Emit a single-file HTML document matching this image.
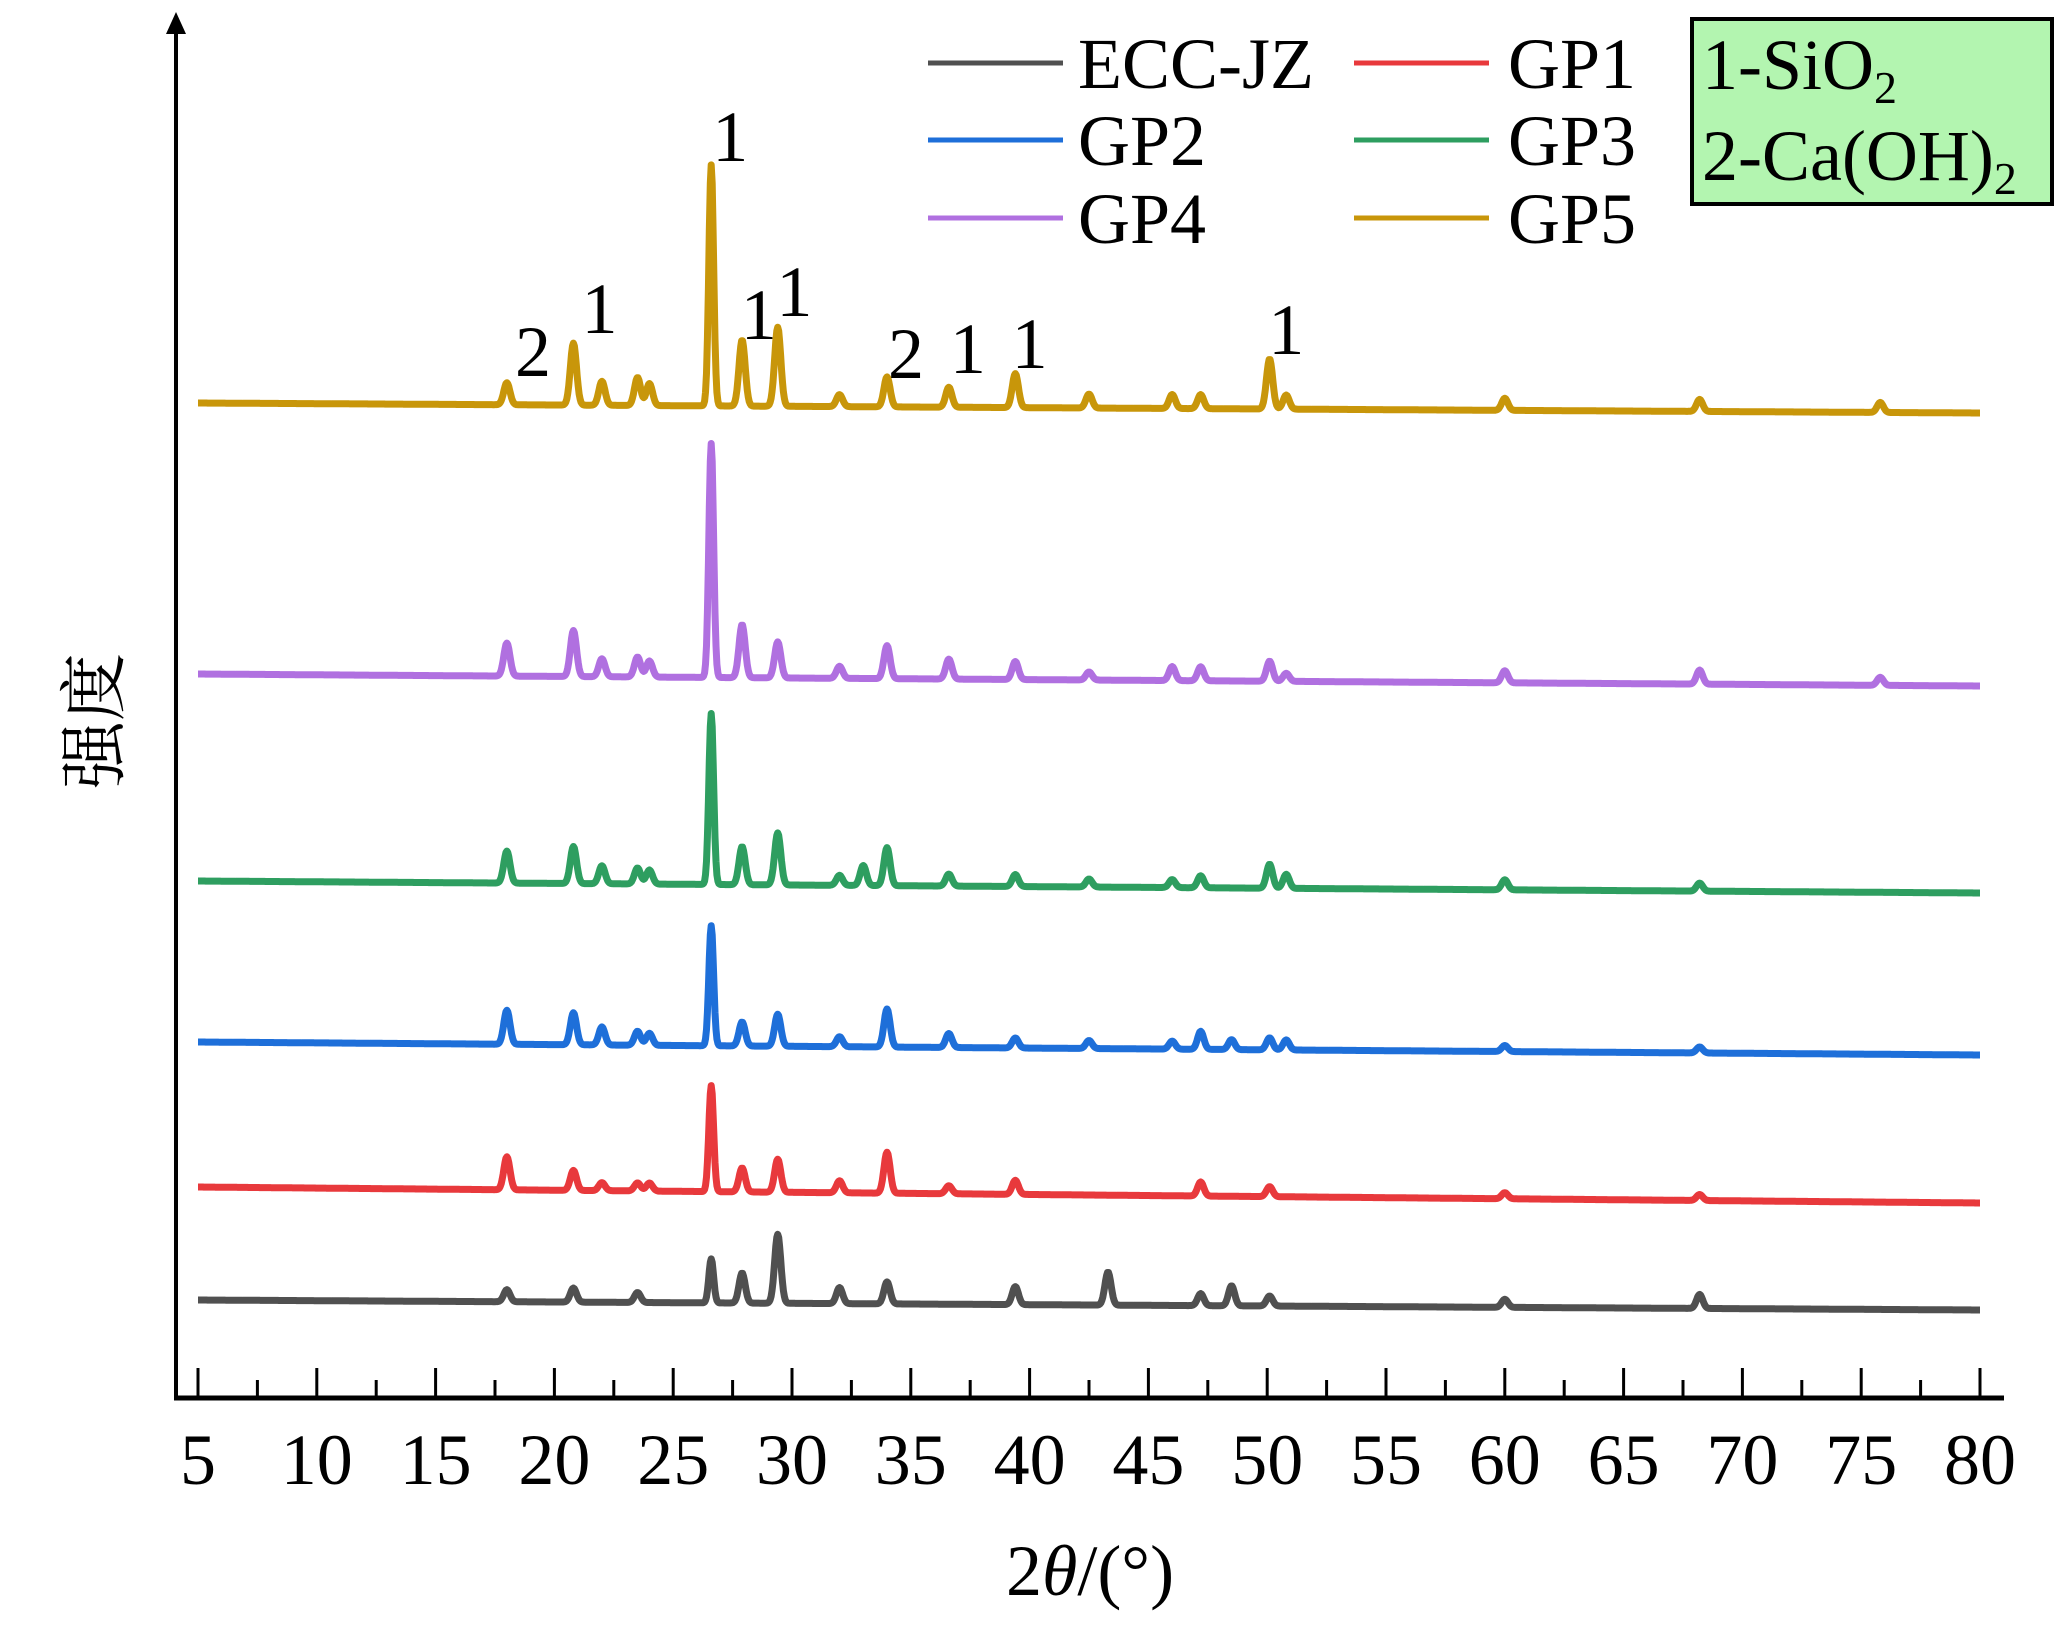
<!DOCTYPE html>
<html><head><meta charset="utf-8"><style>
body{margin:0;background:#fff}
svg text{font-family:"Liberation Serif","Noto Serif CJK SC",serif;fill:#000}
</style></head><body>
<svg id="chart" width="2064" height="1646" xmlns="http://www.w3.org/2000/svg">
<g id="plot"></g>
<g id="xaxis"></g>
<line x1="176" y1="1398" x2="176" y2="30" stroke="#000" stroke-width="4"/>
<polygon points="176,12 166,34 186,34" fill="#000"/>
<text x="1090" y="1595" font-size="72" text-anchor="middle">2<tspan font-style="italic">θ</tspan>/(°)</text>
<text transform="translate(118,721) rotate(-90)" font-size="68" text-anchor="middle" style="font-family:'Noto Serif CJK SC',serif">强度</text>
<g id="legend"></g>
<g>
<rect x="1692" y="19" width="360" height="185" fill="#b3f5b0" stroke="#000" stroke-width="4"/>
<text x="1702" y="89" font-size="72">1-SiO<tspan font-size="46" dy="14">2</tspan></text>
<text x="1702" y="180" font-size="72">2-Ca(OH)<tspan font-size="46" dy="14">2</tspan></text>
</g>
<g id="annot"></g>
</svg>
<script>
const seriesNames=["ECC-JZ","GP1","GP2","GP3","GP4","GP5"];
const seriesColors=["#505050","#e8393c","#1e6fd9","#2e9e60","#b070e0","#c8960a"];
const baseStart=[98,211,356,517,724,995];
const baseEnd=[88,195,343,505,712,985];
const peakPos=[18.0,20.8,22.0,23.5,24.0,26.6,27.9,29.4,32.0,33.0,34.0,36.6,39.4,42.5,43.3,46.0,47.2,48.5,50.1,50.8,60.0,68.2,75.8];
const peakECC=[12,14,0,10,0,44,30,69,16,0,22,0,18,0,33,0,12,20,10,0,8,14,0];
const peakGP1=[33,20,8,8,8,106,24,33,12,0,41,8,14,0,0,0,14,0,10,0,6,6,0];
const peakGP2=[34,32,18,14,12,120,24,32,10,0,38,14,10,8,0,8,18,10,12,10,6,6,0];
const peakGP3=[32,37,18,16,14,171,38,52,10,20,38,12,12,8,0,8,12,0,24,14,10,8,0];
const peakGP4=[33,46,18,20,16,234,53,36,12,0,33,20,18,8,0,14,14,0,20,8,12,14,8];
const peakGP5=[22,62,24,28,22,241,66,79,12,0,30,20,34,14,0,14,14,0,50,14,12,12,10];
const peakSets=[peakECC,peakGP1,peakGP2,peakGP3,peakGP4,peakGP5];
const xTicks=[5,10,15,20,25,30,35,40,45,50,55,60,65,70,75,80];
const annLabels=["1","2","1","1","1","2","1","1","1"];
const annX=[27.4,19.1,21.9,28.6,30.1,34.8,37.4,40.0,50.8];
const annY=[1262,1047,1090,1084,1107,1045,1050,1055,1069];

const NS="http://www.w3.org/2000/svg";
const X0=198,X1=1980,AXY=1398;
function xs(v){return X0+(v-5)*(X1-X0)/75;}
function ys(v){return 1398-v;}
const plot=document.getElementById('plot');
seriesNames.forEach((n,i)=>{
  let d="";
  for(let t=5;t<=80.001;t+=0.04){
    let v=baseStart[i]+(baseEnd[i]-baseStart[i])*(t-5)/75;
    peakPos.forEach((p,k)=>{const s=(k===5)?0.1:0.13;v+=peakSets[i][k]*Math.exp(-((t-p)**2)/(2*s*s));});
    d+=(d?"L":"M")+xs(t).toFixed(1)+","+ys(v).toFixed(1);
  }
  const pa=document.createElementNS(NS,'path');
  pa.setAttribute('d',d);pa.setAttribute('fill','none');pa.setAttribute('stroke',seriesColors[i]);
  pa.setAttribute('stroke-width','7');pa.setAttribute('stroke-linejoin','round');
  
  
  plot.appendChild(pa);
});
const xa=document.getElementById('xaxis');
const al=document.createElementNS(NS,'line');
al.setAttribute('x1',174);al.setAttribute('x2',2004);al.setAttribute('y1',AXY);al.setAttribute('y2',AXY);
al.setAttribute('stroke','#000');al.setAttribute('stroke-width','5');


xa.appendChild(al);
for(let t=5;t<=80;t+=2.5){
  const major=(t%5===0);
  const l=document.createElementNS(NS,'line');
  l.setAttribute('x1',xs(t));l.setAttribute('x2',xs(t));l.setAttribute('y1',AXY);l.setAttribute('y2',AXY-(major?30:18));
  l.setAttribute('stroke','#000');l.setAttribute('stroke-width','3');
  
  
  xa.appendChild(l);
}
xTicks.forEach(t=>{
  const tx=document.createElementNS(NS,'text');
  tx.setAttribute('x',xs(t));tx.setAttribute('y',1484);tx.setAttribute('font-size','72');tx.setAttribute('text-anchor','middle');
  tx.textContent=t;
  
  
  xa.appendChild(tx);
});
const lg=document.getElementById('legend');
const lgX=[928,1354],lgTX=[1078,1508],lgY=[63,140,218];
seriesNames.forEach((n,i)=>{
  const c=i%2,r=Math.floor(i/2);
  const l=document.createElementNS(NS,'line');
  l.setAttribute('x1',lgX[c]);l.setAttribute('x2',lgX[c]+135);l.setAttribute('y1',lgY[r]);l.setAttribute('y2',lgY[r]);
  l.setAttribute('stroke',seriesColors[i]);l.setAttribute('stroke-width','5');
  
  
  lg.appendChild(l);
  const tx=document.createElementNS(NS,'text');
  tx.setAttribute('x',lgTX[c]);tx.setAttribute('y',lgY[r]+25);tx.setAttribute('font-size','72');
  tx.textContent=n;
  
  
  lg.appendChild(tx);
});
const an=document.getElementById('annot');
annLabels.forEach((s,i)=>{
  const tx=document.createElementNS(NS,'text');
  tx.setAttribute('x',xs(annX[i]));tx.setAttribute('y',ys(annY[i])+25);tx.setAttribute('font-size','72');tx.setAttribute('text-anchor','middle');
  tx.textContent=s;
  
  
  an.appendChild(tx);
});
</script>
</body></html>
